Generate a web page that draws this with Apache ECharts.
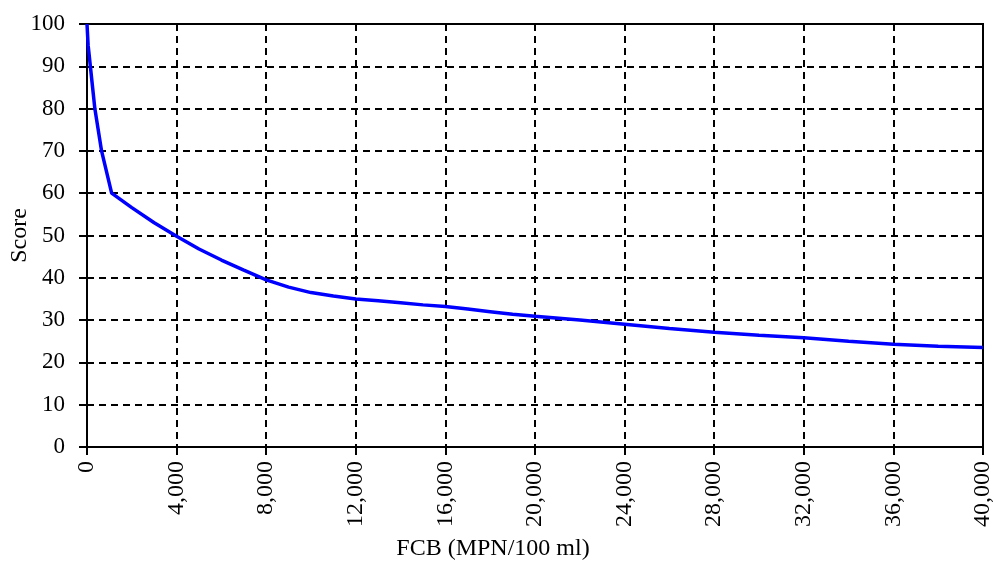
<!DOCTYPE html>
<html>
<head>
<meta charset="utf-8">
<script src="https://cdn.jsdelivr.net/npm/echarts@6/dist/echarts.min.js"></script>
<style>
  html, body { margin: 0; padding: 0; background: #ffffff; }
  #chart { width: 995px; height: 563px; }
</style>
</head>
<body>
<div id="chart"></div>
<script>
// Fecal coliform bacteria (MPN/100 ml) versus sub-index score
const fcb = [0, 50, 150, 250, 350, 650, 1100, 2000, 3000, 4000, 5000, 6000, 7000, 8000,
  9000, 10000, 11000, 12000, 13000, 14000, 15000, 16000, 17000, 18000, 19000, 20000,
  22000, 24000, 26000, 28000, 30000, 32000, 34000, 36000, 38000, 40000];
const score = [100, 95, 90, 85, 80, 70, 60, 56.6, 53, 49.8, 46.8, 44.2, 41.8, 39.5,
  37.8, 36.5, 35.7, 35.0, 34.6, 34.1, 33.6, 33.2, 32.6, 32.0, 31.4, 30.9,
  30.0, 29.0, 28.0, 27.1, 26.4, 25.8, 25.0, 24.3, 23.8, 23.5];

const xTitle = 'FCB (MPN/100 ml)';
const yTitle = 'Score';

const serif = "'Liberation Serif', 'Times New Roman', serif";
const chart = echarts.init(document.getElementById('chart'), null, { renderer: 'canvas' });

const gridLine = { show: true, lineStyle: { color: '#000', width: 2, type: [7, 5] } };

chart.setOption({
  backgroundColor: '#ffffff',
  animation: false,
  grid: {
    left: 87, right: 12, top: 24, bottom: 116,
    outerBoundsMode: 'none',
    containLabel: false,
    show: true, borderColor: '#000', borderWidth: 2, backgroundColor: 'transparent'
  },
  xAxis: {
    type: 'value',
    min: 0, max: 40000, interval: 4000,
    name: xTitle,
    nameLocation: 'middle',
    nameGap: 90,
    nameTextStyle: { fontFamily: serif, fontSize: 24, color: '#000', padding: [0, 84, 0, 0] },
    axisLine: { show: true, lineStyle: { color: '#000', width: 2 } },
    axisTick: { show: true, length: 8, lineStyle: { color: '#000', width: 2 } },
    axisLabel: {
      rotate: 90, margin: 14, color: '#000', fontFamily: serif, fontSize: 24,
      formatter: v => v.toLocaleString('en-US')
    },
    splitLine: gridLine
  },
  yAxis: {
    type: 'value',
    min: 0, max: 100, interval: 10,
    name: yTitle,
    nameLocation: 'middle',
    nameMoveOverlap: false,
    nameGap: 55,
    nameTextStyle: { fontFamily: serif, fontSize: 24, color: '#000' },
    axisLine: { show: true, lineStyle: { color: '#000', width: 2 } },
    axisTick: { show: true, length: 8, lineStyle: { color: '#000', width: 2 } },
    axisLabel: { margin: 22, color: '#000', fontFamily: serif, fontSize: 23 },
    splitLine: gridLine
  },
  series: [{
    type: 'line',
    data: fcb.map((x, i) => [x, score[i]]),
    showSymbol: false,
    smooth: false,
    lineStyle: { color: '#0000ff', width: 3.5 },
    z: 5
  }]
});
</script>
</body>
</html>
